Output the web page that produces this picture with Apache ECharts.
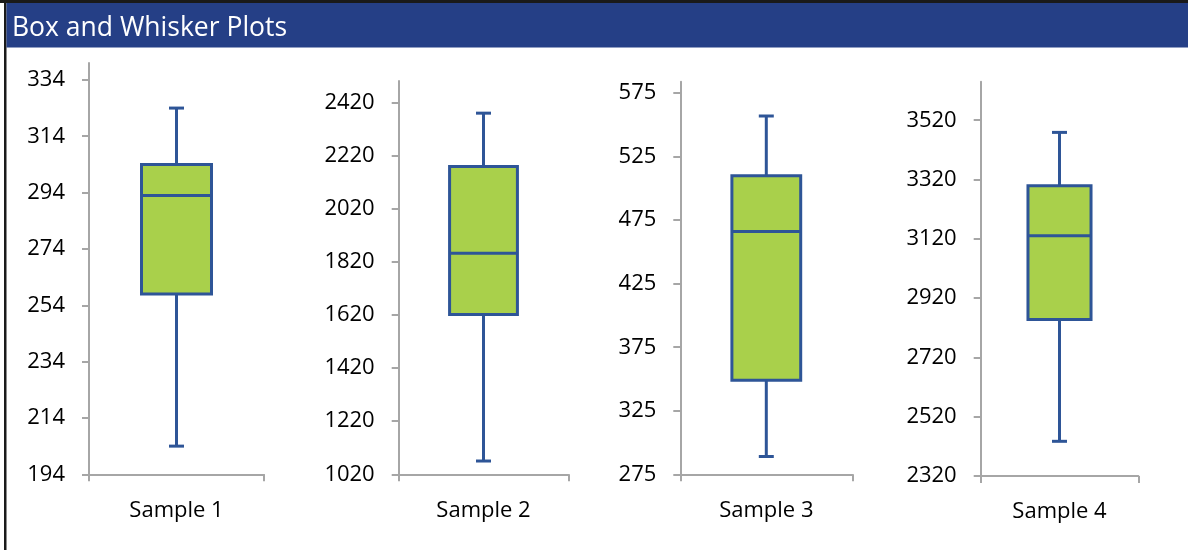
<!DOCTYPE html>
<html>
<head>
<meta charset="utf-8">
<script src="https://cdn.jsdelivr.net/npm/echarts@6/dist/echarts.min.js"></script>
<style>
html,body{margin:0;padding:0;background:#fff;}
#main{width:1188px;height:550px;}
</style>
</head>
<body>
<div id="main"></div>
<script>
const categories = ['Sample 1', 'Sample 2', 'Sample 3', 'Sample 4'];
const whiskerLow  = [204, 1070, 289, 2437];
const quartile1   = [258, 1621, 349, 2848];
const median      = [293, 1852, 466, 3130];
const quartile3   = [304, 2178, 510, 3299];
const whiskerHigh = [324, 2379, 557, 3479];
const axisMin = [194, 1020, 275, 2320];
const axisMax = [340, 2500, 584, 3650];
const ticks1 = [194, 214, 234, 254, 274, 294, 314, 334];
const ticks2 = [1020, 1220, 1420, 1620, 1820, 2020, 2220, 2420];
const ticks3 = [275, 325, 375, 425, 475, 525, 575];
const ticks4 = [2320, 2520, 2720, 2920, 3120, 3320, 3520];
const yTicks = [ticks1, ticks2, ticks3, ticks4];
const titleText = 'Box and Whisker Plots';

const grids = [
  {left: 89, top: 63, width: 175, height: 411.3},
  {left: 398.7, top: 81, width: 169.6, height: 393.3},
  {left: 680.3, top: 81.7, width: 172, height: 392.6},
  {left: 980.7, top: 81.7, width: 157.6, height: 394.3}
];

const axisColor = '#A6A6A6';
const boxStroke = '#2E5597';
const boxFill = '#A9D04B';
const FONT = 'Open Sans';

function renderItem(params, api) {
  const x = api.value(0);
  const pLow = api.coord([x, api.value(1)]);
  const pQ1 = api.coord([x, api.value(2)]);
  const pMed = api.coord([x, api.value(3)]);
  const pQ3 = api.coord([x, api.value(4)]);
  const pHigh = api.coord([x, api.value(5)]);
  const cx = pLow[0];
  const bw = api.size([1, 0])[0] * 0.4;
  const cap = 15;
  const ls = {stroke: boxStroke, lineWidth: 3, fill: null};
  return {
    type: 'group',
    children: [
      {type: 'line', shape: {x1: cx, y1: pQ3[1], x2: cx, y2: pHigh[1]}, style: ls},
      {type: 'line', shape: {x1: cx, y1: pQ1[1], x2: cx, y2: pLow[1]}, style: ls},
      {type: 'line', shape: {x1: cx - cap / 2, y1: pHigh[1], x2: cx + cap / 2, y2: pHigh[1]}, style: ls},
      {type: 'line', shape: {x1: cx - cap / 2, y1: pLow[1], x2: cx + cap / 2, y2: pLow[1]}, style: ls},
      {type: 'rect', shape: {x: cx - bw / 2, y: pQ3[1], width: bw, height: pQ1[1] - pQ3[1]},
        style: {fill: boxFill, stroke: boxStroke, lineWidth: 3}},
      {type: 'line', shape: {x1: cx - bw / 2, y1: pMed[1], x2: cx + bw / 2, y2: pMed[1]}, style: ls}
    ]
  };
}

const xAxes = [], yAxes = [], series = [];
for (let i = 0; i < 4; i++) {
  xAxes.push({
    type: 'category', gridIndex: i, data: [categories[i]],
    axisLine: {show: true, lineStyle: {color: axisColor, width: 2}},
    axisTick: {show: true, length: 7, lineStyle: {color: axisColor, width: 2}},
    axisLabel: {color: '#000', fontFamily: FONT, fontSize: 22, margin: 25},
    splitLine: {show: false}
  });
  yAxes.push({
    type: 'value', gridIndex: i, min: axisMin[i], max: axisMax[i],
    axisLine: {show: true, lineStyle: {color: axisColor, width: 2}},
    axisTick: {show: true, length: 7, lineStyle: {color: axisColor, width: 2}, customValues: yTicks[i]},
    axisLabel: {color: '#000', fontFamily: FONT, fontSize: 22, margin: 24, customValues: yTicks[i],
      formatter: function (v) { return String(v); }},
    splitLine: {show: false}
  });
  series.push({
    type: 'custom', xAxisIndex: i, yAxisIndex: i,
    renderItem: renderItem,
    encode: {x: 0, y: [1, 2, 3, 4, 5]},
    data: [[0, whiskerLow[i], quartile1[i], median[i], quartile3[i], whiskerHigh[i]]],
    silent: true
  });
}

const chart = echarts.init(document.getElementById('main'), null, {renderer: 'canvas'});
chart.setOption({
  animation: false,
  backgroundColor: '#fff',
  grid: grids,
  xAxis: xAxes,
  yAxis: yAxes,
  series: series,
  graphic: [
    {type: 'rect', shape: {x: 0, y: 0, width: 1188, height: 3}, style: {fill: '#1a1a1a'}},
    {type: 'rect', shape: {x: 4, y: 0, width: 2.5, height: 550}, style: {fill: '#1a1a1a'}},
    {type: 'rect', shape: {x: 6.5, y: 3, width: 1181.5, height: 44.5}, style: {fill: '#253F86'}},
    {type: 'text', x: 12, y: 28, style: {text: titleText, fill: '#fff', font: '26.5px "Open Sans"', textVerticalAlign: 'middle'}}
  ]
});
</script>
</body>
</html>
